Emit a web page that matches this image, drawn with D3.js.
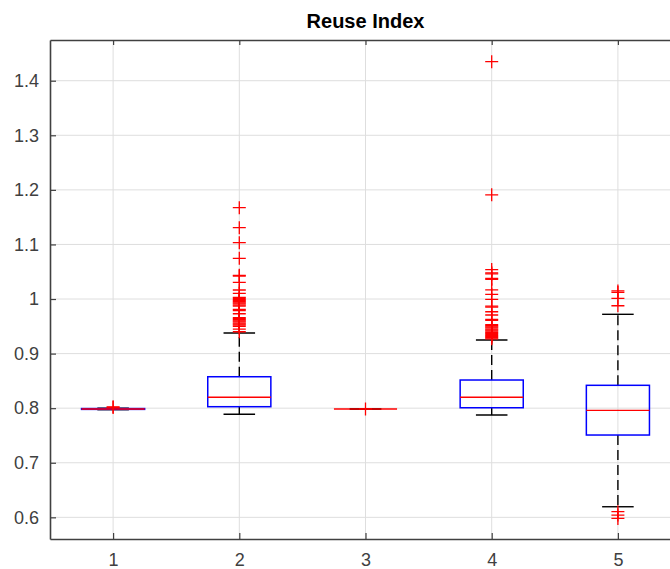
<!DOCTYPE html>
<html>
<head>
<meta charset="utf-8">
<script src="https://cdn.jsdelivr.net/npm/d3@7"></script>
<style>
  body { margin: 0; background: #fff; }
  svg { display: block; overflow: hidden; }
</style>
</head>
<body>
<script>
// box plot of reuse index, one box per group
var svgWidth = 670;
var svgHeight = 569;

// plot area runs a bit past the right edge (cropped like the original)
var margin = { top: 40, left: 50, bottom: 30 };
var plotRight = 681;

// data
var groups = [1, 2, 3, 4, 5];
var q1     = [0.7978, 0.8027, 0.7985, 0.8008, 0.7508];
var median = [0.7985, 0.8200, 0.7985, 0.8200, 0.7960];
var q3     = [0.7993, 0.8576, 0.7985, 0.8516, 0.8419];
var whiskLo = [0.7972, 0.7890, 0.7985, 0.7875, 0.6194];
var whiskHi = [0.8000, 0.9377, 0.7985, 0.9249, 0.9720];
var outliers = [
  [0.8012, 0.8025],
  [1.1673, 1.1307, 1.1032, 1.0746, 1.0434, 1.0420, 1.0306, 1.0165, 1.0104,
   1.003, 1.001, 0.999, 0.997, 0.995, 0.993, 0.991, 0.989, 0.987,
   0.981, 0.979, 0.973,
   0.966, 0.964, 0.962, 0.960, 0.958, 0.956, 0.954, 0.952, 0.950,
   0.945, 0.940],
  [0.7986],
  [1.4348, 1.191, 1.054, 1.048, 1.046, 1.038, 1.036, 1.0166, 1.0086, 0.9995,
   0.987, 0.985, 0.9767, 0.9707, 0.9628, 0.961,
   0.953, 0.951, 0.949, 0.947, 0.945, 0.943, 0.941, 0.939, 0.937, 0.935,
   0.933, 0.931, 0.929, 0.927],
  [1.0148, 1.012, 1.0013, 0.9877, 0.6103, 0.6042, 0.598]
];
var yTicks = [0.6, 0.7, 0.8, 0.9, 1.0, 1.1, 1.2, 1.3, 1.4];
var chartTitle = "Reuse Index";

var plotBottom = svgHeight - margin.bottom;

var svg = d3.select("body")
  .append("svg")
  .attr("width", svgWidth)
  .attr("height", svgHeight)
  .style("font-family", "'Liberation Sans', Arial, Helvetica, sans-serif");

var xScale = d3.scaleLinear()
  .domain([0.5, 5.5])
  .range([margin.left, plotRight]);

var yScale = d3.scaleLinear()
  .domain([0.5603, 1.4746])
  .range([plotBottom, margin.top]);

// grid
var grid = svg.append("g");
grid.selectAll(".gy")
  .data(yTicks)
  .enter()
    .append("line")
    .attr("x1", margin.left)
    .attr("x2", plotRight)
    .attr("y1", d => yScale(d))
    .attr("y2", d => yScale(d))
    .attr("stroke", "#dedede")
    .attr("stroke-width", 1);
grid.selectAll(".gx")
  .data(groups)
  .enter()
    .append("line")
    .attr("x1", d => xScale(d))
    .attr("x2", d => xScale(d))
    .attr("y1", margin.top)
    .attr("y2", plotBottom)
    .attr("stroke", "#dedede")
    .attr("stroke-width", 1);

// axes: left and bottom with labels, top with ticks only, all ticks point inward
var leftAxis = d3.axisLeft(yScale)
  .tickValues(yTicks)
  .tickSizeInner(-6)
  .tickSizeOuter(0)
  .tickPadding(11)
  .tickFormat(d => d === 1 ? "1" : d3.format(".1f")(d));
var bottomAxis = d3.axisBottom(xScale)
  .tickValues(groups)
  .tickSizeInner(-6)
  .tickSizeOuter(0)
  .tickPadding(14)
  .tickFormat(d3.format("d"));
var topAxis = d3.axisTop(xScale)
  .tickValues(groups)
  .tickSizeInner(-5)
  .tickSizeOuter(0)
  .tickFormat("");

var gLeft = svg.append("g")
  .attr("transform", `translate(${margin.left},0)`)
  .call(leftAxis);
var gBottom = svg.append("g")
  .attr("transform", `translate(0,${plotBottom})`)
  .call(bottomAxis);
var gTop = svg.append("g")
  .attr("transform", `translate(0,${margin.top})`)
  .call(topAxis);

[gLeft, gBottom, gTop].forEach(function(g) {
  g.select(".domain").attr("stroke", "#404040").attr("stroke-width", 1.6);
  g.selectAll(".tick line").attr("stroke", "#404040").attr("stroke-width", 1.2);
  g.selectAll(".tick text")
    .attr("fill", "#404040")
    .attr("font-size", "18px");
});
gBottom.selectAll(".tick text").attr("dy", "0.72em");

// boxes
var boxHalf = 0.25;
var capHalf = 0.125;
var boxes = svg.append("g");

groups.forEach(function(g, i) {
  var b = boxes.append("g");
  // dashed whiskers
  b.append("line")
    .attr("x1", xScale(g)).attr("x2", xScale(g))
    .attr("y1", yScale(q3[i])).attr("y2", yScale(whiskHi[i]))
    .attr("stroke", "#000").attr("stroke-width", 1.4)
    .attr("stroke-dasharray", "10,5");
  b.append("line")
    .attr("x1", xScale(g)).attr("x2", xScale(g))
    .attr("y1", yScale(q1[i])).attr("y2", yScale(whiskLo[i]))
    .attr("stroke", "#000").attr("stroke-width", 1.4)
    .attr("stroke-dasharray", "10,5");
  // caps
  [whiskHi[i], whiskLo[i]].forEach(function(v) {
    b.append("line")
      .attr("x1", xScale(g - capHalf)).attr("x2", xScale(g + capHalf))
      .attr("y1", yScale(v)).attr("y2", yScale(v))
      .attr("stroke", "#000").attr("stroke-width", 1.4);
  });
  // box
  b.append("rect")
    .attr("x", xScale(g - boxHalf))
    .attr("y", yScale(q3[i]))
    .attr("width", xScale(g + boxHalf) - xScale(g - boxHalf))
    .attr("height", Math.max(0, yScale(q1[i]) - yScale(q3[i])))
    .attr("fill", "none")
    .attr("stroke", "#0000ff")
    .attr("stroke-width", 1.5)
    .attr("stroke-opacity", i === 2 ? 0 : 1);
  // median
  b.append("line")
    .attr("x1", xScale(g - boxHalf)).attr("x2", xScale(g + boxHalf))
    .attr("y1", yScale(median[i])).attr("y2", yScale(median[i]))
    .attr("stroke", "#ff0000").attr("stroke-width", 1.3);
  // outliers as red plus marks
  b.selectAll(".out")
    .data(outliers[i])
    .enter()
      .append("path")
      .attr("transform", d => `translate(${xScale(g)},${yScale(d)})`)
      .attr("d", "M-6.5,0H6.5M0,-6.5V6.5")
      .attr("stroke", "#ff0000")
      .attr("stroke-width", 1.3)
      .attr("fill", "none");
});

svg.append("text")
  .attr("x", (margin.left + plotRight) / 2)
  .attr("y", 28)
  .attr("text-anchor", "middle")
  .attr("font-size", "20px")
  .attr("font-weight", "bold")
  .attr("fill", "#000")
  .text(chartTitle);
</script>
</body>
</html>
